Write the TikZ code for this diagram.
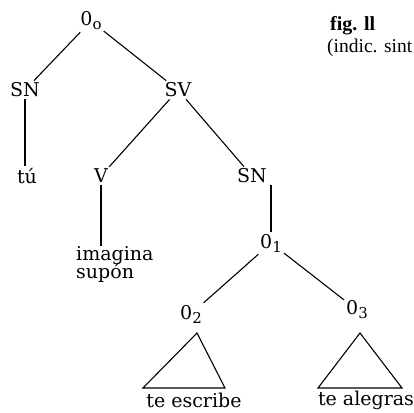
\documentclass[tikz,border=0pt]{standalone}
\usepackage{fontspec}
\setmainfont{DejaVu Serif}
\newfontfamily\figfont{Liberation Serif}
\begin{document}
\begin{tikzpicture}[x=1pt,y=-1pt,
  lbl/.style={font=\fontsize{19}{21}\selectfont, inner sep=2pt},
  edge/.style={line width=1.1pt},
  zero/.style={lbl}]
\useasboundingbox (0,0) rectangle (414,412);
\newcommand{\zsub}[1]{0\raisebox{-0.4ex}{\fontsize{15}{16}\selectfont #1}}
\node[zero] (o0) at (91,21) {\zsub{o}};
\node[anchor=west, inner sep=0pt, font=\figfont\fontsize{20}{22}\selectfont\bfseries] (fig) at (330,26) {fig. ll};
\node[anchor=west, inner sep=0pt, font=\figfont\fontsize{19.5}{21}\selectfont] (ind) at (327,48) {(indic. sint};
\node[lbl] (snL) at (25,90) {SN};
\node[lbl] (sv) at (178,90) {SV};
\node[lbl] (tu) at (27,176) {tú};
\node[lbl] (v) at (101,176) {V};
\node[lbl] (snR) at (252,176) {SN};
\node[lbl] (o1) at (271,243) {\zsub{1}};
\node[lbl, anchor=north west, align=left, inner sep=0pt] (imag) at (76,246) {imagina\\[-3pt]supón};
\node[lbl] (o2) at (191,314) {\zsub{2}};
\node[lbl] (o3) at (357,310) {\zsub{3}};
\node[lbl] (esc) at (194,400) {te escribe};
\node[lbl] (ale) at (366,400) {te alegras};
\coordinate (t2a) at (197,333);
\coordinate (t2l) at (143,388);
\coordinate (t2r) at (225,388);
\coordinate (t3a) at (360,333);
\coordinate (t3l) at (318,388);
\coordinate (t3r) at (402,388);
\draw[edge] (o0) -- (snL);
\draw[edge] (o0) -- (sv);
\draw[edge] (snL) -- (snL |- tu.north);
\draw[edge] (sv) -- (v);
\draw[edge] (sv) -- (snR);
\draw[edge] (v) -- (v |- imag.north);
\draw[edge] (snR.south -| o1.north) -- (o1.north);
\draw[edge] (o1) -- (o2);
\draw[edge] (o1) -- (o3);
\draw[edge] (t2a) -- (t2l) -- (t2r) -- cycle;
\draw[edge] (t3a) -- (t3l) -- (t3r) -- cycle;
\end{tikzpicture}
\end{document}
